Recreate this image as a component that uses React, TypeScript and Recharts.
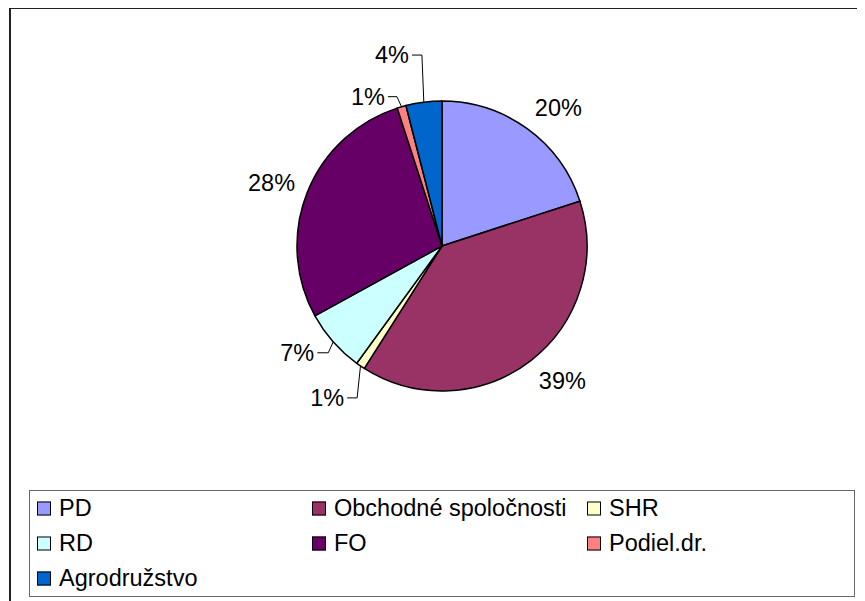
import React from 'react';
import { PieChart, Pie, Cell, Legend } from 'recharts';

const categories = ['PD', 'Obchodné spoločnosti', 'SHR', 'RD', 'FO', 'Podiel.dr.', 'Agrodružstvo'];
const shares = [20, 39, 1, 7, 28, 1, 4];
const colors = ['#9999FF', '#993366', '#FFFFCC', '#CCFFFF', '#660066', '#FF8080', '#0066CC'];

const data = categories.map((name, i) => ({ name, value: shares[i] }));
const total = shares.reduce((a, b) => a + b, 0);

const W = 857;
const H = 593;
const CX = 434;
const CY = 238;
const R = 145;
const FONT = '"Liberation Sans", Arial, sans-serif';
const FS = 23.5;

// leader-line label layout (by slice index): elbow in polar coords (radius, clock angle), tail length
const leaders: Record<number, { r: number; a: number; tail: number }> = {
  2: { r: 174, a: 209.2, tail: 10 },
  3: { r: 156, a: 226.8, tail: 11 },
  5: { r: 156, a: 343.2, tail: 9 },
  6: { r: 192, a: 354, tail: 10 },
};

function clockPt(cx: number, cy: number, r: number, clockDeg: number) {
  const t = (clockDeg * Math.PI) / 180;
  return { x: cx + r * Math.sin(t), y: cy - r * Math.cos(t) };
}

const renderLabel = (p: any) => {
  const { cx, cy, midAngle, outerRadius, index, value } = p;
  const clock = 90 - midAngle;
  const txt = `${Math.round((value / total) * 100)}%`;
  const L = leaders[index];
  const textProps = {
    fontFamily: FONT,
    fontSize: FS,
    fill: '#000',
    dominantBaseline: 'central' as const,
  };
  if (L) {
    const s = clockPt(cx, cy, outerRadius, clock);
    const e = clockPt(cx, cy, L.r, L.a);
    const endX = e.x - L.tail;
    return (
      <g key={`lbl-${index}`}>
        <polyline
          points={`${s.x},${s.y} ${e.x},${e.y} ${endX},${e.y}`}
          fill="none"
          stroke="#000"
          strokeWidth={1}
        />
        <text x={endX - 3} y={e.y} textAnchor="end" {...textProps}>
          {txt}
        </text>
      </g>
    );
  }
  const t = (clock * Math.PI) / 180;
  const P = clockPt(cx, cy, outerRadius + 13, clock);
  const y = P.y - 13 * Math.cos(t);
  const anchor = Math.sin(t) >= 0 ? 'start' : 'end';
  return (
    <text key={`lbl-${index}`} x={P.x} y={y} textAnchor={anchor} {...textProps}>
      {txt}
    </text>
  );
};

const LegendBox = () => (
  <div
    style={{
      width: '100%',
      height: '100%',
      boxSizing: 'border-box',
      border: '1px solid #666',
      position: 'relative',
      fontFamily: FONT,
      fontSize: FS,
      color: '#000',
      background: '#fff',
    }}
  >
    {categories.map((c, i) => {
      const col = i % 3;
      const row = Math.floor(i / 3);
      return (
        <div
          key={c}
          style={{
            position: 'absolute',
            left: 7 + col * 275,
            top: 17 + row * 35,
            transform: 'translateY(-50%)',
            display: 'flex',
            alignItems: 'center',
            whiteSpace: 'nowrap',
          }}
        >
          <span
            style={{
              display: 'inline-block',
              width: 14,
              height: 14,
              boxSizing: 'border-box',
              border: '1.5px solid #000',
              background: colors[i],
              marginRight: 8,
            }}
          />
          <span>{c}</span>
        </div>
      );
    })}
  </div>
);

export default function App() {
  return (
    <div style={{ position: 'relative', width: W, height: H, overflow: 'hidden', background: '#fff' }}>
      <div
        style={{
          position: 'absolute',
          left: 1,
          top: -1,
          width: W + 20,
          height: H + 20,
          borderTop: '2px solid #222',
          borderLeft: '2px solid #222',
          boxSizing: 'border-box',
        }}
      />
      <div style={{ position: 'absolute', left: 0, top: 0 }}>
        <PieChart width={W} height={H} margin={{ top: 0, left: 0, right: 0, bottom: 0 }}>
          <Pie
            data={data}
            dataKey="value"
            nameKey="name"
            cx={CX}
            cy={CY}
            outerRadius={R}
            startAngle={90}
            endAngle={-270}
            stroke="#000"
            strokeWidth={1.5}
            label={renderLabel}
            labelLine={false}
            isAnimationActive={false}
          >
            {data.map((d, i) => (
              <Cell key={d.name} fill={colors[i]} />
            ))}
          </Pie>
          <Legend
            content={() => <LegendBox />}
            wrapperStyle={{ position: 'absolute', left: 21, top: 482, width: 826, height: 107, bottom: 'auto' }}
          />
        </PieChart>
      </div>
    </div>
  );
}
